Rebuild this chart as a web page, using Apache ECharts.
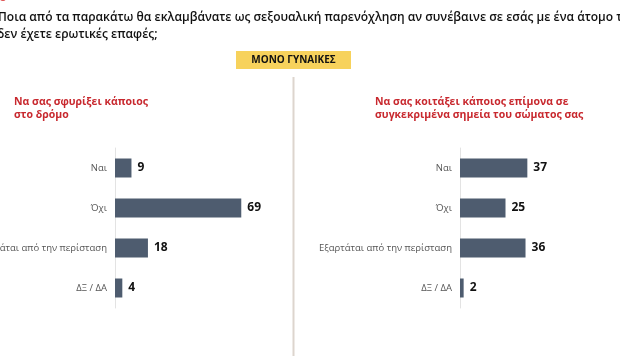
<!DOCTYPE html>
<html><head><meta charset="utf-8">
<script src="https://cdn.jsdelivr.net/npm/echarts@6/dist/echarts.min.js"></script>
<style>html,body{margin:0;padding:0;background:#fff}#c{width:620px;height:356px}</style>
</head><body><div id="c"></div>
<script>
const categories = ["Ναι", "Όχι", "Εξαρτάται από την περίσταση", "ΔΞ / ΔΑ"];
const leftValues = [9, 69, 18, 4];
const rightValues = [37, 25, 36, 2];
const titleLine1 = "Ποια από τα παρακάτω θα εκλαμβάνατε ως σεξουαλική παρενόχληση αν συνέβαινε σε εσάς με ένα άτομο τ";
const titleLine2 = "δεν έχετε ερωτικές επαφές;";
const badgeText = "ΜΟΝΟ ΓΥΝΑΙΚΕΣ";
const leftSubtitle = "Να σας σφυρίξει κάποιος\nστο δρόμο";
const rightSubtitle = "Να σας κοιτάξει κάποιος επίμονα σε\nσυγκεκριμένα σημεία του σώματος σας";

const FONT = "Open Sans";
const BAR = "#4e5c6f";
const chart = echarts.init(document.getElementById('c'));
function yAxis(idx){
  return {type:'category', gridIndex:idx, data:categories, inverse:true,
    axisLine:{show:true, lineStyle:{color:'#e3e3e3', width:1}},
    axisTick:{show:false},
    axisLabel:{color:'#555', fontSize:9.5, fontFamily:FONT, margin:8}};
}
function xAxis(idx){
  return {type:'value', gridIndex:idx, min:0, max:100, show:false};
}
function series(idx, vals){
  return {type:'bar', xAxisIndex:idx, yAxisIndex:idx, data:vals, barWidth:19,
    itemStyle:{color:BAR},
    label:{show:true, position:'right', distance:6, color:'#111', fontWeight:'bold', fontSize:12, fontFamily:FONT},
    silent:true};
}
chart.setOption({
  animation:false,
  grid:[{left:115, top:148, width:183, height:160, containLabel:false, outerBoundsMode:'none'},
        {left:460, top:148, width:182, height:160, containLabel:false, outerBoundsMode:'none'}],
  xAxis:[xAxis(0), xAxis(1)],
  yAxis:[yAxis(0), yAxis(1)],
  series:[series(0,leftValues), series(1,rightValues)],
  graphic:[
    {type:'text', left:-1, top:-9, style:{text:'6', fill:'#e05a5a', font:'bold 13px '+FONT}},
    {type:'text', left:-2, top:12, style:{text:titleLine1, fill:'#111', font:'600 12px '+FONT}},
    {type:'text', left:-3, top:29, style:{text:titleLine2, fill:'#111', font:'600 12px '+FONT}},
    {type:'rect', shape:{x:236, y:51, width:115, height:18}, style:{fill:'#f7d25c'}},
    {type:'text', x:293.5, y:60, style:{text:badgeText, fill:'#111', font:'bold 10px '+FONT, align:'center', verticalAlign:'middle'}},
    {type:'line', shape:{x1:293.5, y1:77, x2:293.5, y2:356}, style:{stroke:'#ddd5ce', lineWidth:2}},
    {type:'text', left:14, top:96, style:{text:leftSubtitle, fill:'#c8282e', font:'bold 10.5px '+FONT, lineHeight:13}},
    {type:'text', left:375, top:96, style:{text:rightSubtitle, fill:'#c8282e', font:'bold 10.5px '+FONT, lineHeight:13}}
  ]
});
</script></body></html>
